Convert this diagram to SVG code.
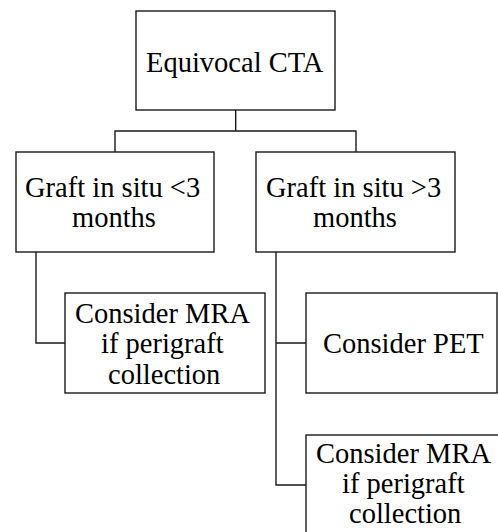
<svg xmlns="http://www.w3.org/2000/svg" width="498" height="532" viewBox="0 0 498 532">
<rect width="498" height="532" fill="#fff"/>
<g id="connectors" fill="none" stroke="#1a1a1a" stroke-width="1.4">
<path d="M235.7,110 V131 M115,152 V131 H356 V152"/>
<path d="M36,252 V343 H65"/>
<path d="M276,252 V485 H306 M276,343 H306"/>
</g>
<g id="n-cta"><rect x="136" y="11" width="199" height="99" fill="#fff" stroke="#1a1a1a" stroke-width="1.4"/><text x="146" y="72" font-family="Times New Roman" font-size="28.5">Equivocal CTA</text></g>
<g id="n-lt3"><rect x="16" y="152" width="198" height="100" fill="#fff" stroke="#1a1a1a" stroke-width="1.4"/><text x="25" y="197" font-family="Times New Roman" font-size="28.5">Graft in situ &lt;3</text><text x="72" y="227" font-family="Times New Roman" font-size="28.5">months</text></g>
<g id="n-gt3"><rect x="256" y="152" width="199" height="100" fill="#fff" stroke="#1a1a1a" stroke-width="1.4"/><text x="266" y="197" font-family="Times New Roman" font-size="28.5">Graft in situ &gt;3</text><text x="313" y="227" font-family="Times New Roman" font-size="28.5">months</text></g>
<g id="n-mra1"><rect x="65" y="293" width="200" height="100" fill="#fff" stroke="#1a1a1a" stroke-width="1.4"/><text x="75" y="323" font-family="Times New Roman" font-size="28.5">Consider MRA</text><text x="101" y="353" font-family="Times New Roman" font-size="28.5">if perigraft</text><text x="108" y="384" font-family="Times New Roman" font-size="28.5">collection</text></g>
<g id="n-pet"><rect x="306" y="293" width="191" height="100" fill="#fff" stroke="#1a1a1a" stroke-width="1.4"/><text x="323" y="353" font-family="Times New Roman" font-size="28.5">Consider PET</text></g>
<g id="n-mra2"><rect x="306" y="435" width="200" height="110" fill="#fff" stroke="#1a1a1a" stroke-width="1.4"/><text x="316" y="463" font-family="Times New Roman" font-size="28.5">Consider MRA</text><text x="342" y="493" font-family="Times New Roman" font-size="28.5">if perigraft</text><text x="349" y="523" font-family="Times New Roman" font-size="28.5">collection</text></g>
</svg>
